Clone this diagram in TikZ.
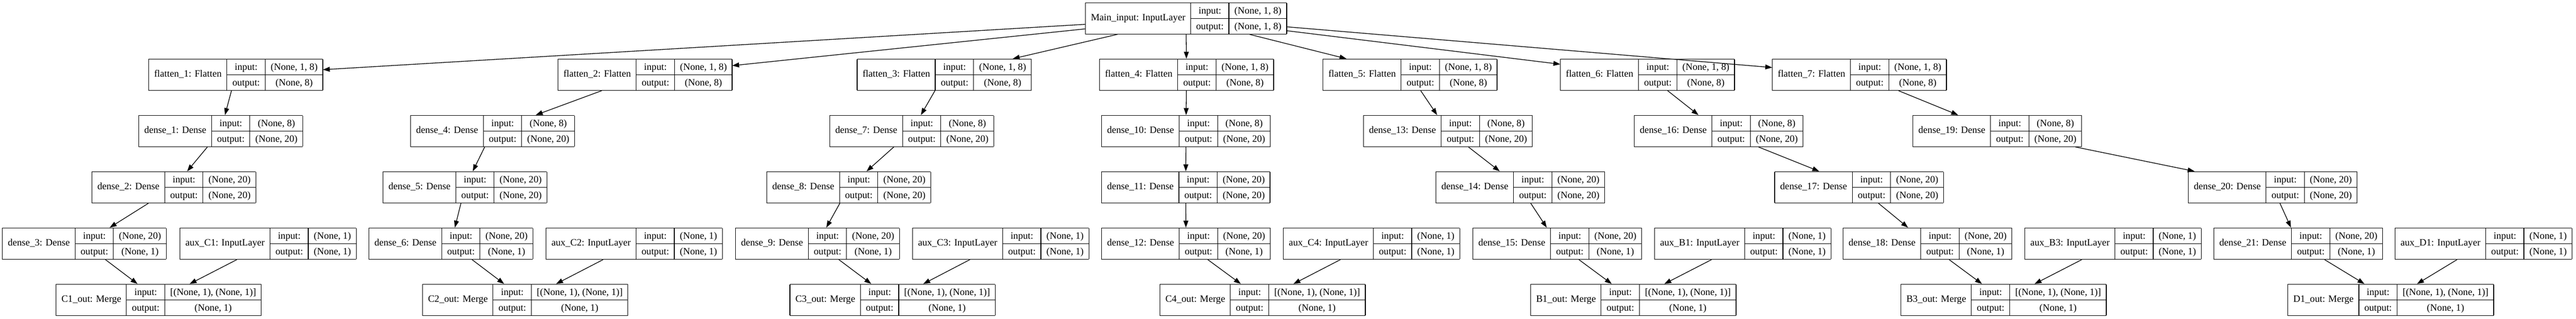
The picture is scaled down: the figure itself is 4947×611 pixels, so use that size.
\documentclass[tikz,border=0pt]{standalone}
\usepackage{fontspec}
\setmainfont{Liberation Serif}
\usetikzlibrary{arrows.meta}
\newcommand\recfont{\fontsize{18.67}{22}\selectfont}
\setlength\arrayrulewidth{1.3pt}
\newcommand\rs{\rule[-8.5pt]{0pt}{28.7pt}}
\newcommand\pad{\kern10pt\relax}
\tikzset{
  recbox/.style={anchor=north west, inner sep=0pt, outer sep=0pt, font=\recfont},
  edge/.style={draw, line width=1.3pt, -{Triangle[length=13.3pt,width=9.3pt]}},
}
\newcommand\rec[6]{%
  \node[recbox] (#1) at ({#2-0.65},{-4.68-108*#3}) {%
    \begin{tabular}{|@{}c@{}|@{}c@{}|@{}c@{}|}\hline
    \pad #4\pad &
    \begin{tabular}{@{\pad}c@{\pad}}\rs input:\\\hline\rs output:\end{tabular} &
    \begin{tabular}{@{\pad}c@{\pad}}\rs #5\\\hline\rs #6\end{tabular}\\\hline
    \end{tabular}};%
}
\newcommand\recflat[3]{\rec{#1}{#2}{1}{flatten\_#3: Flatten}{(None, 1, 8)}{(None, 8)}}
\newcommand\recdA[3]{\rec{#1}{#2}{2}{dense\_#3: Dense}{(None, 8)}{(None, 20)}}
\newcommand\recdB[3]{\rec{#1}{#2}{3}{dense\_#3: Dense}{(None, 20)}{(None, 20)}}
\newcommand\recdC[3]{\rec{#1}{#2}{4}{dense\_#3: Dense}{(None, 20)}{(None, 1)}}
\newcommand\recaux[3]{\rec{#1}{#2}{4}{aux\_#3: InputLayer}{(None, 1)}{(None, 1)}}
\newcommand\recmrg[3]{\rec{#1}{#2}{5}{#3\_out: Merge}{[(None, 1), (None, 1)]}{(None, 1)}}
\begin{document}
\begin{tikzpicture}[x=1pt,y=1pt]
\path[fill=white] (0,0) rectangle (4947,-611);
\useasboundingbox (0,0) rectangle (4947,-611);
% row 0
\rec{main}{2085}{0}{Main\_input: InputLayer}{(None, 1, 8)}{(None, 1, 8)}
% row 1
\recflat{f1}{286}{1}
\recflat{f2}{1072}{2}
\recflat{f3}{1646.5}{3}
\recflat{f4}{2112}{4}
\recflat{f5}{2541}{5}
\recflat{f6}{2997}{6}
\recflat{f7}{3404}{7}
% row 2
\recdA{d1}{267}{1}
\recdA{d4}{789}{4}
\recdA{d7}{1594}{7}
\recdA{d10}{2116}{10}
\recdA{d13}{2619}{13}
\recdA{d16}{3139}{16}
\recdA{d19}{3674}{19}
% row 3
\recdB{d2}{177}{2}
\recdB{d5}{736}{5}
\recdB{d8}{1473}{8}
\recdB{d11}{2116}{11}
\recdB{d14}{2758}{14}
\recdB{d17}{3408.6}{17}
\recdB{d20}{4203}{20}
% row 4
\recdC{d3}{5}{3}
\recaux{ac1}{346}{C1}
\recdC{d6}{709}{6}
\recaux{ac2}{1049}{C2}
\recdC{d9}{1413}{9}
\recaux{ac3}{1753}{C3}
\recdC{d12}{2116}{12}
\recaux{ac4}{2465}{C4}
\recdC{d15}{2829}{15}
\recaux{ab1}{3178}{B1}
\recdC{d18}{3540}{18}
\recaux{ab3}{3889}{B3}
\recdC{d21}{4252}{21}
\recaux{ad1}{4600}{D1}
% row 5
\recmrg{mc1}{108}{C1}
\recmrg{mc2}{812}{C2}
\recmrg{mc3}{1517.5}{C3}
\recmrg{mc4}{2228}{C4}
\recmrg{mb1}{2940}{B1}
\recmrg{mb3}{3651}{B3}
\recmrg{md1}{4394}{D1}
% edges
\foreach \f in {f1,f2,f3,f4,f5,f6,f7} \path[edge] (main) -- (\f);
\path[edge] (f1) -- (d1); \path[edge] (d1) -- (d2); \path[edge] (d2) -- (d3);
\path[edge] (d3) -- (mc1); \path[edge] (ac1) -- (mc1);
\path[edge] (f2) -- (d4); \path[edge] (d4) -- (d5); \path[edge] (d5) -- (d6);
\path[edge] (d6) -- (mc2); \path[edge] (ac2) -- (mc2);
\path[edge] (f3) -- (d7); \path[edge] (d7) -- (d8); \path[edge] (d8) -- (d9);
\path[edge] (d9) -- (mc3); \path[edge] (ac3) -- (mc3);
\path[edge] (f4) -- (d10); \path[edge] (d10) -- (d11); \path[edge] (d11) -- (d12);
\path[edge] (d12) -- (mc4); \path[edge] (ac4) -- (mc4);
\path[edge] (f5) -- (d13); \path[edge] (d13) -- (d14); \path[edge] (d14) -- (d15);
\path[edge] (d15) -- (mb1); \path[edge] (ab1) -- (mb1);
\path[edge] (f6) -- (d16); \path[edge] (d16) -- (d17); \path[edge] (d17) -- (d18);
\path[edge] (d18) -- (mb3); \path[edge] (ab3) -- (mb3);
\path[edge] (f7) -- (d19); \path[edge] (d19) -- (d20); \path[edge] (d20) -- (d21);
\path[edge] (d21) -- (md1); \path[edge] (ad1) -- (md1);
\end{tikzpicture}
\end{document}
